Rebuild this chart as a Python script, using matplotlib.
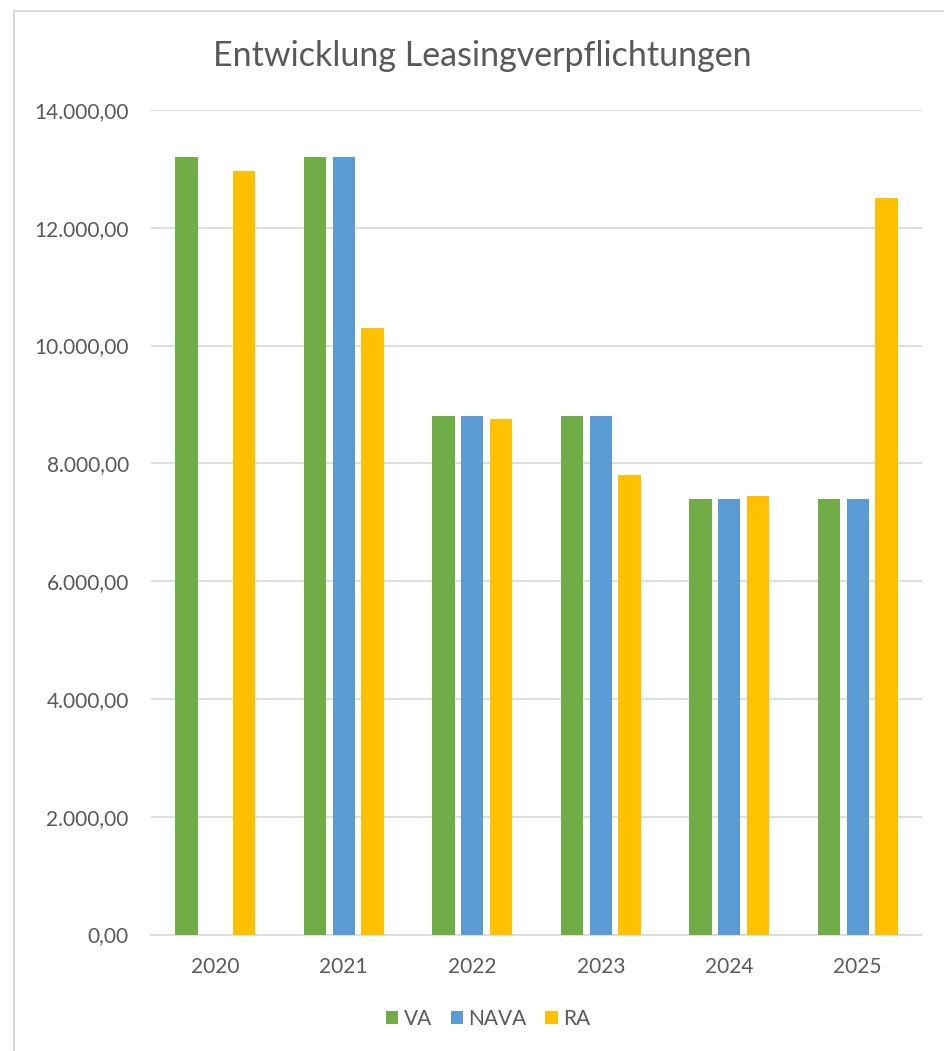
import numpy as np
import matplotlib.pyplot as plt
from matplotlib.patches import Rectangle
from matplotlib.ticker import FuncFormatter

years = ["2020", "2021", "2022", "2023", "2024", "2025"]
va = [13200, 13200, 8800, 8800, 7400, 7400]
nava = [0, 13200, 8800, 8800, 7400, 7400]
ra = [12970, 10300, 8750, 7800, 7450, 12500]

series_names = ["VA", "NAVA", "RA"]
series_colors = ["#70AD47", "#5B9BD5", "#FFC000"]

plt.rcParams['font.family'] = ['Lato', 'DejaVu Sans']
text_col = "#595959"
grid_col = "#D9D9D9"


def de_format(v, pos):
    s = f"{v:,.2f}"
    return s.replace(",", "X").replace(".", ",").replace("X", ".")


fig = plt.figure(figsize=(9.44, 10.51), dpi=100)
ax = fig.add_axes([151 / 944, 1 - 934.5 / 1051, 771 / 944, 824.5 / 1051])

# outer chart frame (runs off the right and bottom edge)
fig.patches.append(Rectangle((14 / 944, -0.1), 1.0, 1 - 11 / 1051 + 0.1,
                             transform=fig.transFigure, fill=False,
                             edgecolor=grid_col, linewidth=1.5))

x = np.arange(len(years))
w = 0.175
off = 0.222
for i, (vals, name, col) in enumerate(zip([va, nava, ra], series_names, series_colors)):
    ax.bar(x + (i - 1) * off, vals, width=w, color=col, label=name, zorder=3)

ax.set_xlim(-0.5, len(years) - 0.5)
ax.set_ylim(0, 14000)
ax.set_yticks(np.arange(0, 14001, 2000))
ax.yaxis.set_major_formatter(FuncFormatter(de_format))
ax.set_xticks(x)
ax.set_xticklabels(years)
ax.tick_params(axis='both', length=0, labelsize=15, colors=text_col)
ax.tick_params(axis='y', pad=16)
ax.tick_params(axis='x', pad=16)

ax.grid(axis='y', color=grid_col, linewidth=1.2, zorder=0)
for side in ['top', 'right', 'left']:
    ax.spines[side].set_visible(False)
ax.spines['bottom'].set_color(grid_col)
ax.spines['bottom'].set_linewidth(1.2)

fig.text(482 / 944, 1 - 56 / 1051, "Entwicklung Leasingverpflichtungen",
         ha='center', va='center', fontsize=24.5, color=text_col)

fig.legend(loc='center', bbox_to_anchor=(488 / 944, 1 - 1019 / 1051), ncol=3,
           frameon=False, fontsize=15, labelcolor=text_col,
           handlelength=0.6, handleheight=0.6, handletextpad=0.25,
           columnspacing=0.9)

fig.savefig("out.png", dpi=100)
